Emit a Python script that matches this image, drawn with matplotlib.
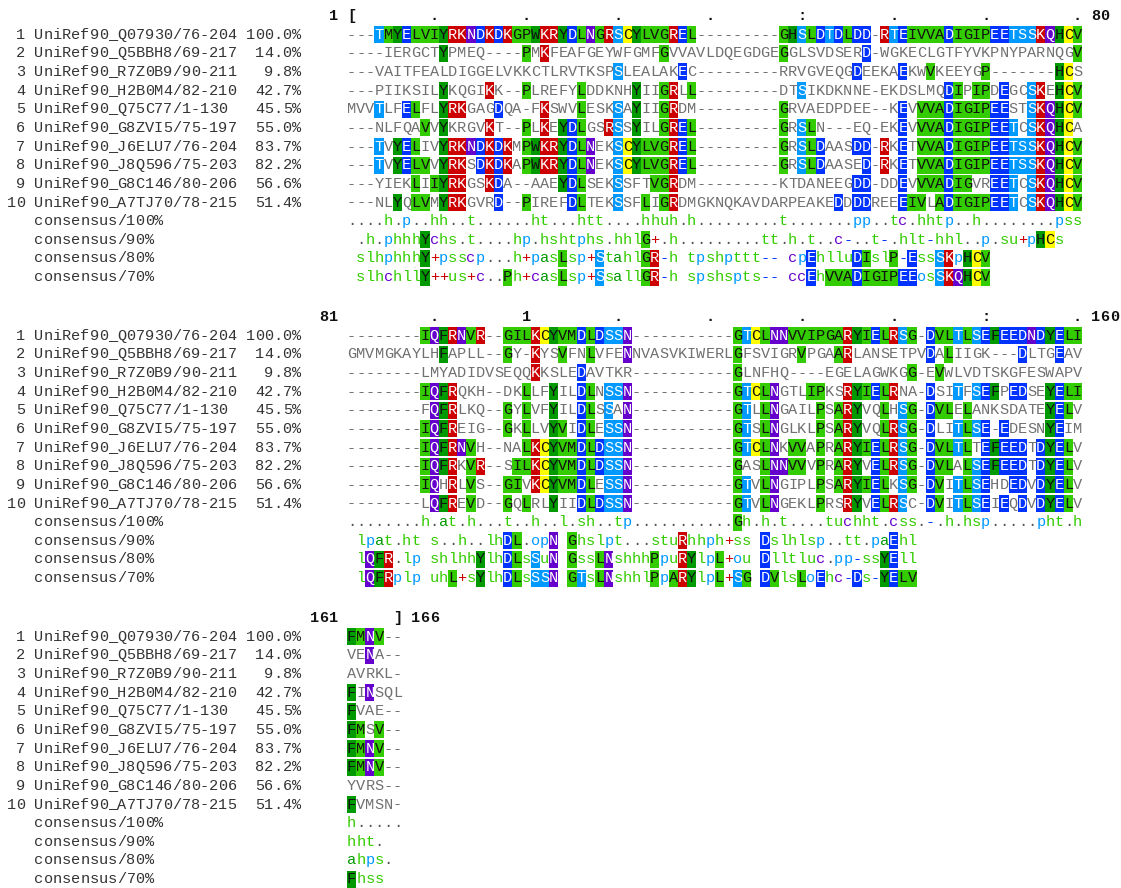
import matplotlib
matplotlib.use("Agg")
import matplotlib.pyplot as plt
from matplotlib.patches import Rectangle

# ---------------- data ----------------
seq_names = ["UniRef90_Q07930/76-204", "UniRef90_Q5BBH8/69-217", "UniRef90_R7Z0B9/90-211",
             "UniRef90_H2B0M4/82-210", "UniRef90_Q75C77/1-130", "UniRef90_G8ZVI5/75-197",
             "UniRef90_J6ELU7/76-204", "UniRef90_J8Q596/75-203", "UniRef90_G8C146/80-206",
             "UniRef90_A7TJ70/78-215"]
identity = ["100.0%", "14.0%", "9.8%", "42.7%", "45.5%", "55.0%", "83.7%", "82.2%", "56.6%", "51.4%"]
cons_names = ["consensus/100%", "consensus/90%", "consensus/80%", "consensus/70%"]

block1 = [
    "---TMYELVIYRKNDKDKGPWKRYDLNGRSCYLVGREL---------GHSLDTDLDD-RTEIVVADIGIPEETSSKQHCV",
    "----IERGCTYPMEQ----PMKFEAFGEYWFGMFGVVAVLDQEGDGEGGLSVDSERD-WGKECLGTFYVKPNYPARNQGV",
    "---VAITFEALDIGGELVKKCTLRVTKSPSLEALAKEC---------RRVGVEQGDEEKAEKWVKEEYGP-------HCS",
    "---PIIKSILYKQGIKK--PLREFYLDDKNHYIIGRLL---------DTSIKDKNNE-EKDSLMQDIPIPDEGCSKEHCV",
    "MVVTLFELFLYRKGAGDQA-FKSWVLESKSAYIIGRDM---------GRVAEDPDEE--KEVVVADIGIPEESTSKQHCV",
    "---NLFQAVVYKRGVKT--PLKEYDLGSRSSYILGREL---------GRSLN---EQ-EKEVVVADIGIPEETCSKQHCA",
    "---TVYELIVYRKNDKDKMPWKRYDLNEKSCYLVGREL---------GRSLDAASDD-RKETVVADIGIPEETSSKQHCV",
    "---TVYELVVYRKSDKDKAPWKRYDLNEKSCYLVGREL---------GRSLDAASED-RKETVVADIGIPEETSSKQHCV",
    "---YIEKLIIYRKGSKDA--AAEYDLSEKSSFTVGRDM---------KTDANEEGDD-DDEVVVADIGVREETCSKQHCV",
    "---NLYQLVMYRKGVRD--PIREFDLTEKSSFLIGRDMGKNQKAVDARPEAKEDDDDREEEIVLADIGIPEETCSKQHCV",
]
block2 = [
    "--------IQFRNVR--GILKCYVMDLDSSN-----------GTCLNNVVIPGARYIELRSG-DVLTLSEFEEDNDYELI",
    "GMVMGKAYLHFAPLL--GY-KYSVFNLVFENNVASVKIWERLGFSVIGRVPGAARLANSETPVDALIIGK---DLTGEAV",
    "--------LMYADIDVSEQQKKSLEDAVTKR-----------GLNFHQ----EGELAGWKGG-EVWLVDTSKGFESWAPV",
    "--------IQFRQKH--DKLLFYILDLNSSN-----------GTCLNGTLIPKSRYIELRNA-DSITFSEFPEDSEYELI",
    "--------FQFRLKQ--GYLVFYILDLSSAN-----------GTLLNGAILPSARYVQLHSG-DVLELANKSDATEYELV",
    "--------IQFREIG--GKLLVYVIDLESSN-----------GTSLNGLKLPSARYVQLRSG-DLITLSE-EDESNYEIM",
    "--------IQFRNVH--NALKCYVMDLDSSN-----------GTCLNKVVAPRARYIELRSG-DVLTLTEFEEDTDYELV",
    "--------IQFRKVR--SILKCYVMDLDSSN-----------GASLNNVVVPRARYVELRSG-DVLALSEFEEDTDYELV",
    "--------IQHRLVS--GIVKCYVMDLESSN-----------GTVLNGIPLPSARYIELKSG-DVITLSEHDEDVDYELV",
    "--------LQFREVD--GQLRLYIIDLDSSN-----------GTVLNGEKLPRSRYVELRSC-DVITLSEIEQDVDYELV",
]
block3 = ["FMNV--", "VENA--", "AVRKL-", "FINSQL", "FVAE--", "FMSV--", "FMNV--", "FMNV--", "YVRS--", "FVMSN-"]

# consensus lines as displayed (leading space = shifted start)
cons1 = [
    "....h.p..hh..t......ht...htt....hhuh.h.........t.......pp..tc.hhtp..h........pss",
    " .h.phhhYchs.t....hp.hshtphs.hhlG+.h.........tt.h.t..c-..t-.hlt-hhl..p.su+pHCs",
    " slhphhhY+psscp...h+pasLsp+StahlGR-h tpshpttt-- cpEhlluDIslP-EssSKpHCV",
    " slhchllY++us+c..Ph+casLsp+SsallGR-h spshspts-- ccEhVVADIGIPEEosSKQHCV",
]
cons2 = [
    "........h.at.h...t..h..l.sh..tp...........Gh.h.t....tuchht.css.-.h.hsp.....pht.h",
    " lpat.ht s..h..lhDL.opN Ghslpt...stuRhhph+ss Dslhlsp..tt.paEhl",
    " lQFR.lp shlhhYlhDLsSuN GssLNshhhPpuRYlpL+ou Dlltluc.pp-ssYEll",
    " lQFRplp uhL+sYlhDLsSSN GTsLNshhlPpARYlpL+SG DVlsLoEhc-Ds-YELV",
]
cons3 = ["h.....", "hht.", "ahps.", "Fhss"]

block_starts = [1, 81, 161]
aln_end = 166

# ---------------- styling ----------------
res_col = {}
for a in "AGILMPV": res_col[a] = "#33cc00"
for a in "FHWY": res_col[a] = "#009900"
res_col["C"] = "#ffff00"
for a in "DE": res_col[a] = "#0033ff"
for a in "KR": res_col[a] = "#cc0000"
for a in "NQ": res_col[a] = "#6600cc"
for a in "ST": res_col[a] = "#0099ff"
txt_on = {"#33cc00": "#111111", "#ffff00": "#111111", "#009900": "#111111",
          "#0033ff": "#ffffff", "#cc0000": "#ffffff", "#6600cc": "#ffffff", "#0099ff": "#ffffff"}
sym_col = {"a": "#009900", "l": "#33cc00", "h": "#33cc00", "+": "#cc0000", "-": "#0033ff",
           "c": "#6600cc", "p": "#0099ff", "o": "#0099ff", "u": "#33cc00", "s": "#33cc00",
           "t": "#33cc00", ".": "#555555", " ": "#555555"}

W, H = 1121, 888
fig = plt.figure(figsize=(W / 100, H / 100), dpi=100)
ax = fig.add_axes([0, 0, 1, 1])
ax.set_xlim(0, W)
ax.set_ylim(H, 0)
ax.axis("off")

FONT = "Liberation Mono"
FS = 11.0
CW = 9.19
X1 = 351.5
LS = 18.65
BH = 17.0
header_y = [16, 317, 618]
GRAY = "#707070"
LAB = "#333333"


def xcol(c):
    return X1 + (c - 1) * CW


def put(ch, c, y, color, weight="normal"):
    ax.text(xcol(c), y, ch, family=FONT, fontsize=FS, color=color, ha="center",
            va="center", fontweight=weight)


def put_str(s, c0, y, color, weight="normal"):
    for i, ch in enumerate(s):
        if ch != " ":
            put(ch, c0 + i, y, color, weight)


def box(c, y, color):
    ax.add_patch(Rectangle((xcol(c) - CW / 2, y - BH / 2), CW, BH, facecolor=color,
                           edgecolor="none", zorder=0))


blocks = [block1, block2, block3]
conses = [cons1, cons2, cons3]
for b in range(3):
    seqs = blocks[b]
    start = block_starts[b]
    n = len(seqs[0])
    hy = header_y[b]
    # ruler
    num = str(start)
    put_str(num, -len(num), hy, "#111111", "bold")
    for k in range(n):
        c = start + k
        if c == 1:
            mark = "["
        elif c == aln_end:
            mark = "]"
        elif c % 100 == 0:
            mark = str(c // 100)
        elif c % 50 == 0:
            mark = ":"
        elif c % 10 == 0:
            mark = "."
        else:
            continue
        put(mark, k + 1, hy, "#111111", "bold")
    endnum = str(start + n - 1)
    put_str(endnum, n + 2, hy, "#111111", "bold")
    # sequences
    ref = seqs[0]
    for r, s in enumerate(seqs):
        y = hy + LS * (r + 1)
        lab_num = str(r + 1)
        put_str(lab_num, -34 - len(lab_num), y, LAB)
        put_str(seq_names[r], -33, y, LAB)
        put_str(identity[r], -4 - len(identity[r]), y, LAB)
        for k, ch in enumerate(s):
            if ch == "-":
                put(ch, k + 1, y, GRAY)
                continue
            if ch == ref[k]:
                col = res_col[ch]
                box(k + 1, y, col)
                put(ch, k + 1, y, txt_on[col])
            else:
                put(ch, k + 1, y, GRAY)
    # consensus
    for j, cs in enumerate(conses[b]):
        y = hy + LS * (len(seqs) + j + 1)
        put_str(cons_names[j], -33, y, LAB)
        for k, ch in enumerate(cs):
            if ch == " ":
                continue
            if ch.isupper():
                col = res_col[ch]
                box(k + 1, y, col)
                put(ch, k + 1, y, txt_on[col])
            else:
                put(ch, k + 1, y, sym_col.get(ch, GRAY))

fig.savefig("out.png", dpi=100)
